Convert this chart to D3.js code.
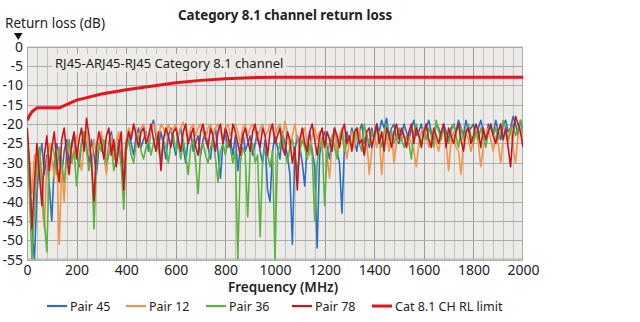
<!DOCTYPE html>
<html><head><meta charset="utf-8">
<script src="https://cdn.jsdelivr.net/npm/d3@7"></script>
<style>
html,body{margin:0;padding:0;background:#fff;}
svg{display:block;font-family:"Noto Sans",sans-serif;}
</style></head>
<body>
<svg id="chart" width="640" height="322"></svg>
<script>
// ---- data (return loss in dB, sampled every 10 MHz, first point at 1 MHz) ----
const freqStep = 10;
const pair45 = [
-27,-35,-47,-55,-38,-29,-25,-33,-28,-36,
-45,-30,-25,-28,-33,-27,-24,-30,-26,-23,
-27,-31,-25,-22,-26,-30,-24,-28,-33,-26,
-23,-28,-32,-25,-22,-27,-30,-24,-29,-35,
-26,-22,-25,-28,-23,-21,-26,-24,-22,-27,
-21,-19,-23,-26,-22,-25,-29,-23,-21,-25,
-28,-23,-21,-26,-30,-24,-22,-27,-25,-23,
-28,-24,-22,-26,-29,-23,-21,-27,-34,-25,
-22,-26,-24,-28,-23,-32,-26,-22,-27,-25,
-23,-28,-25,-22,-27,-30,-24,-37,-40,-27,
-23,-26,-29,-22,-25,-28,-33,-51,-27,-23,
-26,-30,-36,-25,-22,-27,-31,-52,-28,-24,
-22,-26,-29,-24,-21,-27,-30,-43,-26,-22,
-25,-21,-24,-27,-22,-20,-25,-23,-26,-21,
-24,-20,-22,-19,-21,-18.5,-23,-21,-20,-24,
-25,-23,-20,-22,-24,-21,-19,-23,-22,-20,
-23,-21,-19,-22,-24,-20,-21,-23,-20,-22,
-24,-21,-20,-22,-19,-21,-23,-19,-22,-21,
-20,-23,-21,-19,-22,-24,-20,-21,-23,-19,
-22,-24,-20,-19,-22,-21,-18,-20,-23,-19,-22];
const pair12 = [
-24,-30,-38,-28,-33,-26,-40,-47,-30,-25,
-29,-34,-27,-51,-31,-40,-28,-25,-30,-26,
-23,-28,-32,-25,-22,-27,-30,-24,-28,-25,
-22,-27,-33,-26,-23,-29,-25,-22,-27,-30,
-24,-21,-23,-20,-22,-24,-21,-20,-23,-25,
-21,-20,-22,-24,-20,-21,-23,-20,-22,-21,
-20,-23,-21,-19.5,-22,-24,-21,-20,-23,-21,
-20,-22,-24,-21,-20,-23,-21,-20,-22,-24,
-21,-20,-23,-21,-20,-22,-25,-21,-20,-23,
-21,-20,-22,-24,-21,-20,-23,-22,-20,-21,
-23,-21,-20,-24,-19.3,-22,-26,-23,-20,-24,
-27,-22,-21,-25,-28,-23,-21,-24,-22,-26,
-23,-28,-34,-25,-22,-27,-23,-21,-25,-29,
-24,-22,-26,-23,-21,-25,-28,-24,-33,-27,
-23,-26,-22,-33,-25,-23,-27,-22,-30,-25,
-22,-24,-23,-26,-23,-25,-27,-31,-25,-22,
-21,-23,-26,-24,-22,-25,-27,-23,-21,-25,
-32,-24,-22,-26,-27,-33,-25,-22,-24,-27,
-24,-22,-25,-31,-26,-23,-21,-24,-27,-23,
-25,-30,-24,-22,-25,-21,-26,-30,-23,-21,-26];
const pair36 = [
-26,-38,-55,-42,-30,-26,-34,-45,-53,-30,
-25,-28,-33,-26,-30,-35,-28,-24,-30,-27,
-36,-29,-25,-22,-27,-32,-28,-47,-30,-25,
-27,-24,-30,-28,-25,-32,-29,-26,-31,-42,
-27,-24,-28,-30,-25,-23,-27,-29,-26,-24,
-28,-25,-23,-27,-29,-24,-26,-30,-25,-23,
-27,-25,-29,-24,-28,-33,-26,-24,-30,-38,
-27,-25,-28,-30,-26,-24,-29,-35,-27,-25,
-28,-24,-26,-30,-27,-55,-30,-26,-28,-44,
-27,-25,-30,-28,-49,-29,-26,-28,-31,-27,
-55,-28,-25,-23,-27,-30,-26,-24,-28,-32,
-27,-24,-26,-29,-25,-28,-45,-30,-26,-24,
-41,-28,-25,-23,-26,-29,-24,-22,-27,-25,
-23,-26,-24,-21,-25,-27,-20,-23,-25,-22,
-24,-21,-23,-26,-22,-20,-24,-22,-25,-23,
-21,-24,-26,-23,-25,-29,-22,-20,-23,-25,
-22,-24,-21,-23,-26,-19,-22,-24,-21,-23,
-25,-22,-20,-23,-26,-21,-24,-22,-20,-23,
-25,-22,-24,-21,-23,-26,-22,-20,-23,-21,
-24,-22,-19,-21,-24,-22,-20,-23,-21,-19,-22];
const pair78 = [
-21,-30,-47,-35,-25,-33,-41,-28,-23,-32,
-26,-22,-30,-35,-24,-21,-28,-33,-25,-22,
-29,-24,-21,-27,-18.5,-23,-30,-40,-26,-22,
-25,-29,-23,-21,-28,-24,-31,-26,-22,-37,
-25,-22,-24,-20,-23,-26,-22,-21,-25,-23,
-20,-24,-27,-22,-32,-24,-21,-23,-26,-22,
-21,-24,-27,-22,-20,-25,-23,-21,-26,-28,
-22,-20,-24,-26,-21,-23,-27,-22,-20,-25,
-21,-23,-26,-20,-22,-25,-28,-23,-21,-24,
-27,-22,-20,-24,-26,-21,-23,-28,-22,-20,
-25,-23,-21,-26,-28,-22,-24,-30,-26,-37,
-24,-21,-25,-27,-22,-20,-24,-28,-23,-21,
-26,-22,-24,-27,-21,-23,-26,-22,-20,-25,
-23,-27,-22,-21,-25,-24,-28,-22,-21,-26,
-23,-20,-25,-22,-27,-21,-23,-26,-22,-20,
-24,-21,-23,-26,-22,-20,-25,-21,-23,-26,
-22,-20,-24,-26,-21,-23,-25,-22,-20,-26,
-21,-23,-25,-22,-20,-24,-27,-22,-21,-25,
-23,-20,-22,-26,-21,-24,-22,-20,-23,-25,
-22,-20,-24,-21,-26,-31,-22,-18,-20,-22,-26];
const limitFreq = [1, 10, 20, 40, 130, 200, 300, 400, 500, 600, 700, 800, 900, 1000, 2000];
const limitDb   = [-19, -17.8, -16.8, -15.8, -15.8, -13.8, -12.2, -11.1, -10.2, -9.3, -8.7, -8.3, -8.0, -7.9, -7.9];
const xTicks = [0, 200, 400, 600, 800, 1000, 1200, 1400, 1600, 1800, 2000];
const yTicks = [0, -5, -10, -15, -20, -25, -30, -35, -40, -45, -50, -55];
const seriesNames = ["Pair 45", "Pair 12", "Pair 36", "Pair 78", "Cat 8.1 CH RL limit"];
const seriesColors = ["#2a6fc4", "#f39447", "#5cb33d", "#cc1420", "#e8141c"];

// ---- layout ----
const svg = d3.select("#chart");
const L = 27, R = 523, T = 46.7, B = 259.6;
const x = d3.scaleLinear().domain([0, 2000]).range([L, R]);
const y = d3.scaleLinear().domain([-55, 0]).range([B, T]);

svg.append("rect").attr("x", L).attr("y", T).attr("width", R - L).attr("height", B - T)
  .attr("fill", "#ecebe7");

// grid
const g = svg.append("g");
d3.range(40, 2000, 40).forEach(f => {
  const major = f % 200 === 0;
  g.append("line").attr("x1", Math.round(x(f)) + 0.5).attr("x2", Math.round(x(f)) + 0.5)
    .attr("y1", T).attr("y2", B)
    .attr("stroke", major ? "#9c9c9c" : "#c3c3c1").attr("stroke-width", 1);
});
yTicks.forEach(v => {
  g.append("line").attr("x1", L).attr("x2", R)
    .attr("y1", Math.round(y(v)) + 0.5).attr("y2", Math.round(y(v)) + 0.5)
    .attr("stroke", "#adadab").attr("stroke-width", 1);
});
svg.append("rect").attr("x", L + 0.5).attr("y", T + 0.5).attr("width", R - L - 1).attr("height", B - T - 1)
  .attr("fill", "none").attr("stroke", "#a8a8a8");

// annotation
const ann = svg.append("g");
const annRect = ann.append("rect").attr("fill", "#ecebe7");
const annText = ann.append("text").attr("x", 55).attr("y", 68)
  .attr("font-size", 13).attr("fill", "#222")
  .text("RJ45-ARJ45-RJ45 Category 8.1 channel");
const bb = annText.node().getBBox();
annRect.attr("x", bb.x - 3).attr("y", bb.y).attr("width", bb.width + 6).attr("height", bb.height);

// series
svg.append("clipPath").attr("id", "clip").append("rect")
  .attr("x", L).attr("y", T - 2).attr("width", R - L).attr("height", B - T + 2);
const line = d3.line().x(d => x(d[0])).y(d => y(d[1]));
const pairs = [pair45, pair12, pair36, pair78];
const plot = svg.append("g").attr("clip-path", "url(#clip)");
pairs.forEach((arr, k) => {
  const pts = arr.map((v, i) => [i === 0 ? 1 : i * freqStep, v]);
  plot.append("path").attr("d", line(pts)).attr("fill", "none")
    .attr("stroke", seriesColors[k]).attr("stroke-width", 1.6).attr("stroke-linejoin", "round");
});
plot.append("path").attr("d", line(limitFreq.map((f, i) => [f, limitDb[i]])))
  .attr("fill", "none").attr("stroke", seriesColors[4]).attr("stroke-width", 3)
  .attr("stroke-linejoin", "round");

// axes
const yAxis = svg.append("g").attr("transform", `translate(${L},0)`)
  .call(d3.axisLeft(y).tickValues(yTicks).tickSize(0).tickPadding(4).tickFormat(d => d === 0 ? "0" : "-" + Math.abs(d)));
yAxis.select(".domain").remove();
yAxis.selectAll("text").attr("font-size", 14).attr("font-family", "Noto Sans").attr("fill", "#222");
const xAxis = svg.append("g").attr("transform", `translate(0,${B})`)
  .call(d3.axisBottom(x).tickValues(xTicks).tickSize(0).tickPadding(5).tickFormat(d3.format("d")));
xAxis.select(".domain").remove();
xAxis.selectAll("text").attr("font-size", 14).attr("font-family", "Noto Sans").attr("fill", "#222");

// titles
svg.append("text").attr("x", 285).attr("y", 20).attr("text-anchor", "middle")
  .attr("font-size", 13.3).attr("font-weight", "bold").attr("fill", "#222")
  .text("Category 8.1 channel return loss");
svg.append("text").attr("x", 5).attr("y", 28).attr("font-size", 13.5).attr("fill", "#222")
  .text("Return loss (dB)");
svg.append("path").attr("d", "M14,33 L22.5,33 L18.25,40 Z").attr("fill", "#111");
svg.append("text").attr("x", 283).attr("y", 292).attr("text-anchor", "middle")
  .attr("font-size", 13.5).attr("font-weight", "600").attr("fill", "#222")
  .text("Frequency (MHz)");

// legend
const legX = [47, 126, 206, 292, 372];
const leg = svg.append("g");
seriesNames.forEach((n, i) => {
  leg.append("line").attr("x1", legX[i]).attr("x2", legX[i] + 20).attr("y1", 306).attr("y2", 306)
    .attr("stroke", seriesColors[i]).attr("stroke-width", i === 4 ? 3 : 2.2);
  leg.append("text").attr("x", legX[i] + 23).attr("y", 310.5).attr("font-size", 12.5).attr("fill", "#222")
    .text(n);
});
</script>
</body></html>
